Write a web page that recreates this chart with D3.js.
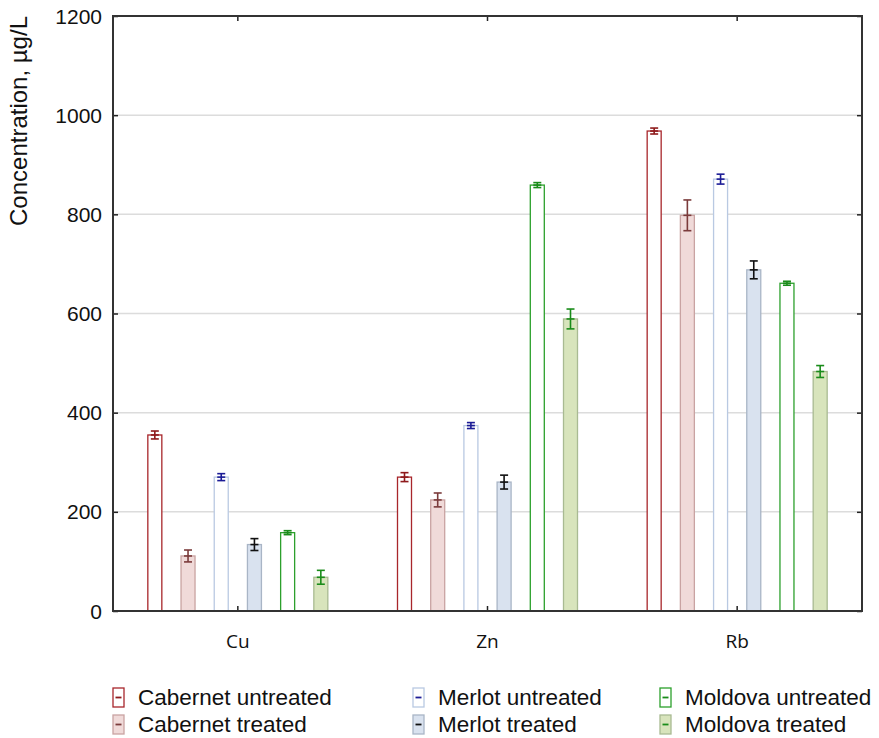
<!DOCTYPE html>
<html>
<head>
<meta charset="utf-8">
<script src="https://cdn.jsdelivr.net/npm/d3@7"></script>
<style>
  body { margin: 0; background: #fff; }
  svg text { font-family: "Liberation Sans", Arial, sans-serif; fill: #111; }
</style>
</head>
<body>
<div id="chart"></div>
<script>
// data
var elements = ["Cu", "Zn", "Rb"];
var series = ["Cabernet untreated", "Cabernet treated", "Merlot untreated",
  "Merlot treated", "Moldova untreated", "Moldova treated"];
var means = {
  "Cabernet untreated": [355, 270, 968],
  "Cabernet treated":   [111, 224, 798],
  "Merlot untreated":   [270, 374, 871],
  "Merlot treated":     [134, 260, 688],
  "Moldova untreated":  [158, 859, 661],
  "Moldova treated":    [68, 589, 483]
};
var errors = {
  "Cabernet untreated": [8, 9, 6],
  "Cabernet treated":   [12, 14, 31],
  "Merlot untreated":   [7, 6, 10],
  "Merlot treated":     [12, 14, 18],
  "Moldova untreated":  [4, 5, 4],
  "Moldova treated":    [14, 20, 12]
};
var yTicks = [0, 200, 400, 600, 800, 1000, 1200];

// styles per series
var fills   = ["#ffffff", "#f0dad9", "#ffffff", "#d9e2ef", "#ffffff", "#d8e4bc"];
var strokes = ["#a8262b", "#c9a3a2", "#b9c9e2", "#a9b5c6", "#2ca02c", "#a9ba92"];
var errCols = ["#8e1a1c", "#7b3b3b", "#1c1c96", "#111111", "#1a8c1a", "#1a8c1a"];

// margins and svg size
var W = 879, H = 738;
var margin = { top: 16, right: 17, bottom: 127, left: 113 },
  width = W - margin.left - margin.right,
  height = H - margin.top - margin.bottom;

var svg = d3.select("#chart").append("svg")
  .attr("width", W)
  .attr("height", H);

var g = svg.append("g")
  .attr("transform", "translate(" + margin.left + "," + margin.top + ")");

// scales
var x0 = d3.scaleBand().domain(elements).range([0, width]);
var x1 = d3.scalePoint().domain(series).range([-83, 83]);
var y = d3.scaleLinear().domain([0, 1200]).range([height, 0]);
var barW = 14;

// gridlines
g.selectAll(".grid")
  .data(yTicks.filter(function(d) { return d > 0 && d < 1200; }))
  .enter().append("line")
  .attr("x1", 0).attr("x2", width)
  .attr("y1", function(d) { return y(d); })
  .attr("y2", function(d) { return y(d); })
  .attr("stroke", "#dcdcdc")
  .attr("stroke-width", 1.5);

// bars
var rows = [];
elements.forEach(function(el, i) {
  series.forEach(function(s, j) {
    rows.push({ el: el, s: s, j: j, v: means[s][i], e: errors[s][i] });
  });
});

function cx(d) { return x0(d.el) + x0.bandwidth() / 2 + x1(d.s); }

g.selectAll(".bar")
  .data(rows)
  .enter().append("rect")
  .attr("x", function(d) { return cx(d) - barW / 2; })
  .attr("y", function(d) { return y(d.v); })
  .attr("width", barW)
  .attr("height", function(d) { return height - y(d.v); })
  .attr("fill", function(d) { return fills[d.j]; })
  .attr("stroke", function(d) { return strokes[d.j]; })
  .attr("stroke-width", 1.3);

// error bars
var eb = g.selectAll(".err").data(rows).enter().append("g")
  .attr("stroke", function(d) { return errCols[d.j]; })
  .attr("stroke-width", 1.6);

eb.append("line")
  .attr("x1", cx).attr("x2", cx)
  .attr("y1", function(d) { return y(d.v + d.e); })
  .attr("y2", function(d) { return y(d.v - d.e); });

[1, 0, -1].forEach(function(k) {
  eb.append("line")
    .attr("x1", function(d) { return cx(d) - 4; })
    .attr("x2", function(d) { return cx(d) + 4; })
    .attr("y1", function(d) { return y(d.v + k * d.e); })
    .attr("y2", function(d) { return y(d.v + k * d.e); });
});

// axes (ticks inward, full frame)
var yAxisL = d3.axisRight(y).tickValues(yTicks).tickSize(5).tickFormat("");
var yAxisR = d3.axisLeft(y).tickValues(yTicks).tickSize(5).tickFormat("");
var xAxisB = d3.axisTop(x0).tickSize(5).tickFormat("");
var xAxisT = d3.axisBottom(x0).tickSize(5).tickFormat("");

g.append("g").call(yAxisL);
g.append("g").attr("transform", "translate(" + width + ",0)").call(yAxisR);
g.append("g").attr("transform", "translate(0," + height + ")").call(xAxisB);
g.append("g").call(xAxisT);

g.selectAll(".domain").remove();
g.selectAll(".tick line").attr("stroke", "#222").attr("stroke-width", 1.5);

g.append("rect")
  .attr("width", width).attr("height", height)
  .attr("fill", "none")
  .attr("stroke", "#333")
  .attr("stroke-width", 2);

// y tick labels
g.selectAll(".ylab")
  .data(yTicks)
  .enter().append("text")
  .attr("x", -11)
  .attr("y", function(d) { return y(d); })
  .attr("dy", "0.36em")
  .attr("text-anchor", "end")
  .style("font-size", "21px")
  .text(function(d) { return d; });

// x category labels
g.selectAll(".xlab")
  .data(elements)
  .enter().append("text")
  .attr("x", function(d) { return x0(d) + x0.bandwidth() / 2; })
  .attr("y", height + 37)
  .attr("text-anchor", "middle")
  .style("font-family", "'Open Sans', sans-serif")
  .style("font-size", "19px")
  .text(function(d) { return d; });

// y-axis label
svg.append("text")
  .attr("transform", "translate(27,121) rotate(-90)")
  .attr("text-anchor", "middle")
  .style("font-size", "24px")
  .text("Concentration, \u00b5g/L");

// legend
var legCols = [113, 413, 660];
var legend = svg.selectAll(".leg")
  .data(series)
  .enter().append("g")
  .attr("transform", function(d, i) {
    return "translate(" + legCols[Math.floor(i / 2)] + "," + (697 + (i % 2) * 27) + ")";
  });

legend.append("rect")
  .attr("x", 0).attr("y", -9)
  .attr("width", 11).attr("height", 19)
  .attr("fill", function(d, i) { return fills[i]; })
  .attr("stroke", function(d, i) { return strokes[i]; })
  .attr("stroke-width", 1.3);

legend.append("line")
  .attr("x1", 2.5).attr("x2", 8.5)
  .attr("y1", 0.5).attr("y2", 0.5)
  .attr("stroke", function(d, i) { return errCols[i]; })
  .attr("stroke-width", 1.8);

legend.append("text")
  .attr("x", 25)
  .attr("y", 0)
  .attr("dy", "0.36em")
  .style("font-size", "22.5px")
  .text(function(d) { return d; });
</script>
</body>
</html>
